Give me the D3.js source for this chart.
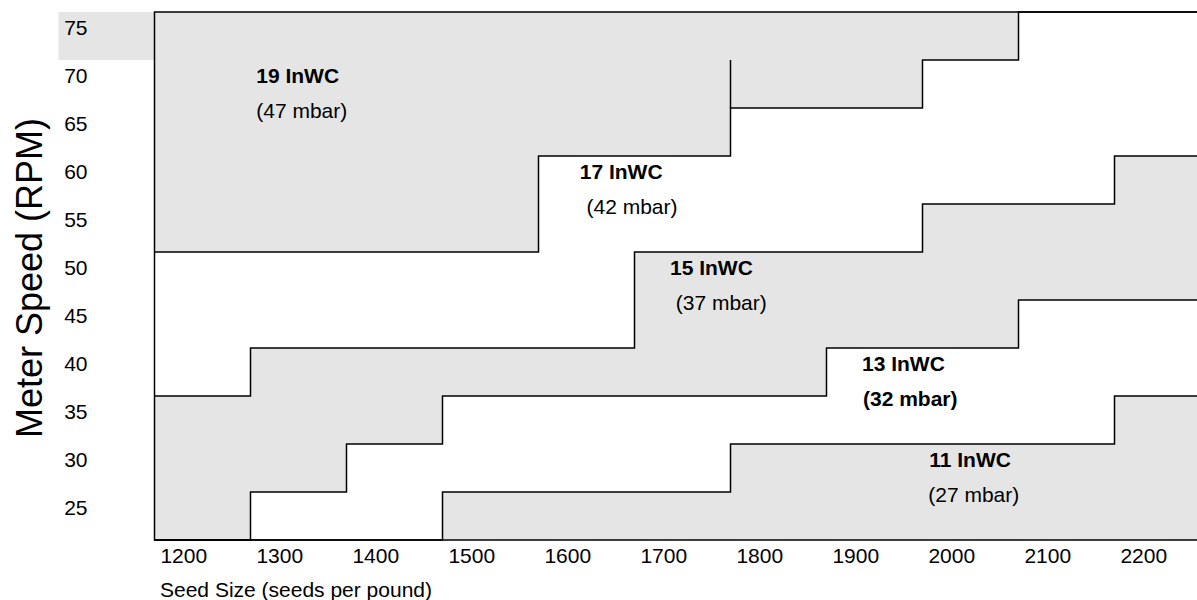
<!DOCTYPE html>
<html>
<head>
<meta charset="utf-8">
<script src="https://cdn.jsdelivr.net/npm/d3@7"></script>
<style>
    body { margin: 0; overflow: hidden; background: #fff; }
    text { font-family: Arial, "Liberation Sans", sans-serif; fill: #000; }
</style>
</head>
<body>
<div id="chart"></div>
<script>

// Seed size breakpoints where the steps change (seeds per pound)
let edges = [1170, 1270, 1370, 1470, 1570, 1670, 1770, 1870, 1970, 2070, 2170, 2270];

// Meter speed limit on each step, one value per interval between edges
let upper19 = [51.6, 51.6, 51.6, 51.6, 61.6, 61.6, 66.6, 66.6, 71.6, 76.6, 76.6];
let upper17 = [36.6, 41.6, 41.6, 41.6, 41.6, 51.6, 51.6, 51.6, 56.6, 56.6, 61.6];
let upper15 = [21.6, 26.6, 31.6, 36.6, 36.6, 36.6, 36.6, 41.6, 41.6, 46.6, 46.6];
let upper13 = [21.6, 21.6, 21.6, 26.6, 26.6, 26.6, 31.6, 31.6, 31.6, 31.6, 36.6];

let yMin = 21.6,
    yMax = 76.6;

let xTicks = [1200, 1300, 1400, 1500, 1600, 1700, 1800, 1900, 2000, 2100, 2200];
let yTicks = [25, 30, 35, 40, 45, 50, 55, 60, 65, 70, 75];

// Zone labels
let zoneNames = ['19 InWC', '17 InWC', '15 InWC', '13 InWC', '11 InWC'];
let zoneMbar = ['(47 mbar)', '(42 mbar)', '(37 mbar)', '(32 mbar)', '(27 mbar)'];
let nameX = [1276, 1613, 1707, 1907, 1977];
let nameY = [70, 60, 50, 40, 30];
let mbarX = [1276, 1620, 1713, 1908, 1976];
let mbarY = [66.35, 56.35, 46.35, 36.35, 26.3];
let mbarBold = [false, false, false, true, false];

//----------------------------------------
// SVG setup
let width = 1197,
    height = 600;

let svg = d3.select('#chart').append('svg')
    .attr('width', width)
    .attr('height', height);

let plotLeft = 154.5,
    plotTop = 12,
    plotBottom = 540;

let x = d3.scaleLinear()
    .domain([1170, 2270])
    .range([plotLeft, plotLeft + 1100 * 0.96]);

let y = d3.scaleLinear()
    .domain([yMin, yMax])
    .range([plotBottom, plotTop]);

let fillColor = '#e5e5e5';

// turn a list of step levels into points for a step-after curve
function steps(levels) {
    let pts = levels.map(function(l, i) { return [edges[i], l]; });
    pts.push([edges[edges.length - 1], levels[levels.length - 1]]);
    return pts;
}

//----------------------------------------
// Gray zones
let area = d3.area()
    .x(function(d) { return x(d[0]); })
    .y0(function(d) { return y(d[1]); })
    .y1(function(d) { return y(d[2]); })
    .curve(d3.curveStepAfter);

let zone19 = edges.map(function(e, i) {
    let l = upper19[Math.min(i, upper19.length - 1)];
    return [e, l, yMax];
});
let zone15 = edges.map(function(e, i) {
    let k = Math.min(i, upper17.length - 1);
    return [e, upper15[k], upper17[k]];
});
let zone11 = edges.map(function(e, i) {
    let l = upper13[Math.min(i, upper13.length - 1)];
    return [e, yMin, l];
});

svg.selectAll('path.zone')
    .data([zone19, zone15, zone11])
    .enter()
    .append('path')
    .attr('class', 'zone')
    .attr('d', area)
    .style('fill', fillColor);

// the little gray patch behind the top tick label
svg.append('rect')
    .attr('x', x(1070))
    .attr('y', y(yMax))
    .attr('width', x(1170) - x(1070))
    .attr('height', y(71.6) - y(yMax))
    .style('fill', fillColor);

//----------------------------------------
// Step lines
let line = d3.line()
    .x(function(d) { return x(d[0]); })
    .y(function(d) { return y(d[1]); })
    .curve(d3.curveStepAfter);

svg.selectAll('path.step')
    .data([upper19, upper17, upper15, upper13].map(steps))
    .enter()
    .append('path')
    .attr('class', 'step')
    .attr('d', line)
    .style('fill', 'none')
    .style('stroke', '#000')
    .style('stroke-width', 1.5);

// stray piece of line above the 1770 step
svg.append('line')
    .attr('x1', x(1770)).attr('x2', x(1770))
    .attr('y1', y(71.6)).attr('y2', y(66.6))
    .style('stroke', '#000')
    .style('stroke-width', 1.5);

// frame: left, top, bottom
svg.append('path')
    .attr('d', 'M' + x(2270) + ',' + y(yMax) + 'H' + x(1170) + 'V' + y(yMin) + 'H' + x(2270))
    .style('fill', 'none')
    .style('stroke', '#000')
    .style('stroke-width', 1.5);

//----------------------------------------
// Axes
let xAxis = svg.append('g')
    .attr('transform', 'translate(0,' + plotBottom + ')')
    .call(d3.axisBottom(x).tickValues(xTicks).tickSize(0).tickPadding(8).tickFormat(d3.format('d')));
xAxis.select('.domain').remove();
xAxis.selectAll('text')
    .style('font-size', '21px')
    .style('font-family', 'Arial, "Liberation Sans", sans-serif')
    .style('fill', '#000');

let yAxis = svg.append('g')
    .attr('transform', 'translate(' + plotLeft + ',0)')
    .call(d3.axisLeft(y).tickValues(yTicks).tickSize(0).tickPadding(67));
yAxis.select('.domain').remove();
yAxis.selectAll('text')
    .style('font-size', '21px')
    .style('font-family', 'Arial, "Liberation Sans", sans-serif')
    .style('fill', '#000');

svg.append('text')
    .attr('x', 160)
    .attr('y', 597)
    .style('font-size', '21px')
    .text('Seed Size (seeds per pound)');

svg.append('text')
    .attr('transform', 'translate(41.5,278) rotate(-90)')
    .attr('text-anchor', 'middle')
    .style('font-size', '36px')
    .text('Meter Speed (RPM)');

//----------------------------------------
// Zone labels
svg.selectAll('text.name')
    .data(zoneNames)
    .enter()
    .append('text')
    .attr('class', 'name')
    .attr('x', function(d, i) { return x(nameX[i]); })
    .attr('y', function(d, i) { return y(nameY[i]); })
    .attr('dy', '0.35em')
    .style('font-size', '21px')
    .style('font-weight', 'bold')
    .text(function(d) { return d; });

svg.selectAll('text.mbar')
    .data(zoneMbar)
    .enter()
    .append('text')
    .attr('class', 'mbar')
    .attr('x', function(d, i) { return x(mbarX[i]); })
    .attr('y', function(d, i) { return y(mbarY[i]); })
    .attr('dy', '0.35em')
    .style('font-size', '21px')
    .style('font-weight', function(d, i) { return mbarBold[i] ? 'bold' : 'normal'; })
    .text(function(d) { return d; });

</script>
</body>
</html>
